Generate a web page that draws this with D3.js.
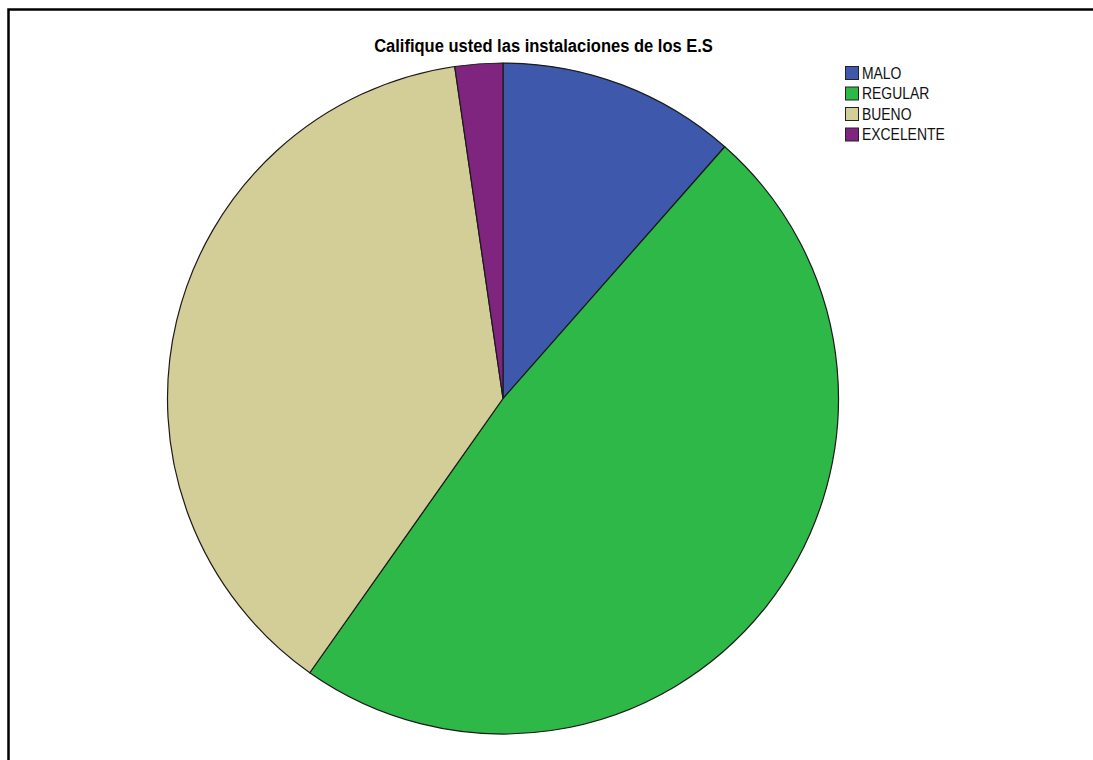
<!DOCTYPE html>
<html>
<head>
<meta charset="utf-8">
<script src="https://cdn.jsdelivr.net/npm/d3@7"></script>
<style>
  html, body { margin: 0; padding: 0; background: #ffffff; }
  svg { display: block; }
</style>
</head>
<body>
<svg id="chart" width="1093" height="760"></svg>
<script>
// Survey responses: "Califique usted las instalaciones de los E.S"
const categories = ["MALO", "REGULAR", "BUENO", "EXCELENTE"];
const counts = [10, 42, 33, 2];
const colors = ["#3e58ac", "#2eb848", "#d3ce97", "#7f2580"];
const title = "Califique usted las instalaciones de los E.S";

const svg = d3.select("#chart");
const FONT = "Liberation Sans, Arial, sans-serif";

// Outer frame of the chart area (right and bottom edges run off the page)
svg.append("path")
  .attr("d", "M8.5,770 L8.5,9.5 L1100,9.5")
  .attr("fill", "none")
  .attr("stroke", "#000")
  .attr("stroke-width", 2.5);

// Fragment of a caption above the frame
svg.append("text")
  .attr("x", 1070).attr("y", -3)
  .attr("font-family", FONT)
  .attr("font-size", 16).attr("font-weight", "bold")
  .text("g.");

// Title (slightly condensed face)
svg.append("text")
  .attr("transform", "translate(543.5,52) scale(0.87,1)")
  .attr("text-anchor", "middle")
  .attr("font-family", FONT)
  .attr("font-size", 19).attr("font-weight", "bold")
  .attr("fill", "#000")
  .text(title);

// Pie
const cx = 503, cy = 398.5, r = 335.5;
const pie = d3.pie().sort(null).value(d => d.value);
const arc = d3.arc().innerRadius(0).outerRadius(r);
const data = categories.map((c, i) => ({ key: c, value: counts[i] }));
const color = d3.scaleOrdinal().domain(categories).range(colors);

const g = svg.append("g").attr("transform", `translate(${cx},${cy})`);
g.selectAll("path.slice")
  .data(pie(data))
  .join("path")
  .attr("class", "slice")
  .attr("d", arc)
  .attr("fill", d => color(d.data.key))
  .attr("stroke", "#1a1a1a")
  .attr("stroke-width", 1.2)
  .attr("stroke-linejoin", "round");

// Legend
const lg = svg.append("g").attr("transform", "translate(845,66)");
const rowH = 20.5;
const rows = lg.selectAll("g.row")
  .data(categories)
  .join("g")
  .attr("class", "row")
  .attr("transform", (d, i) => `translate(0,${i * rowH})`);
rows.append("rect")
  .attr("x", 0.5).attr("y", 0.5)
  .attr("width", 13).attr("height", 13)
  .attr("fill", d => color(d))
  .attr("stroke", "#222")
  .attr("stroke-width", 1);
rows.append("text")
  .attr("transform", "translate(17,12.5) scale(0.87,1)")
  .attr("font-family", FONT)
  .attr("font-size", 16)
  .attr("fill", "#111")
  .text(d => d);
</script>
</body>
</html>
